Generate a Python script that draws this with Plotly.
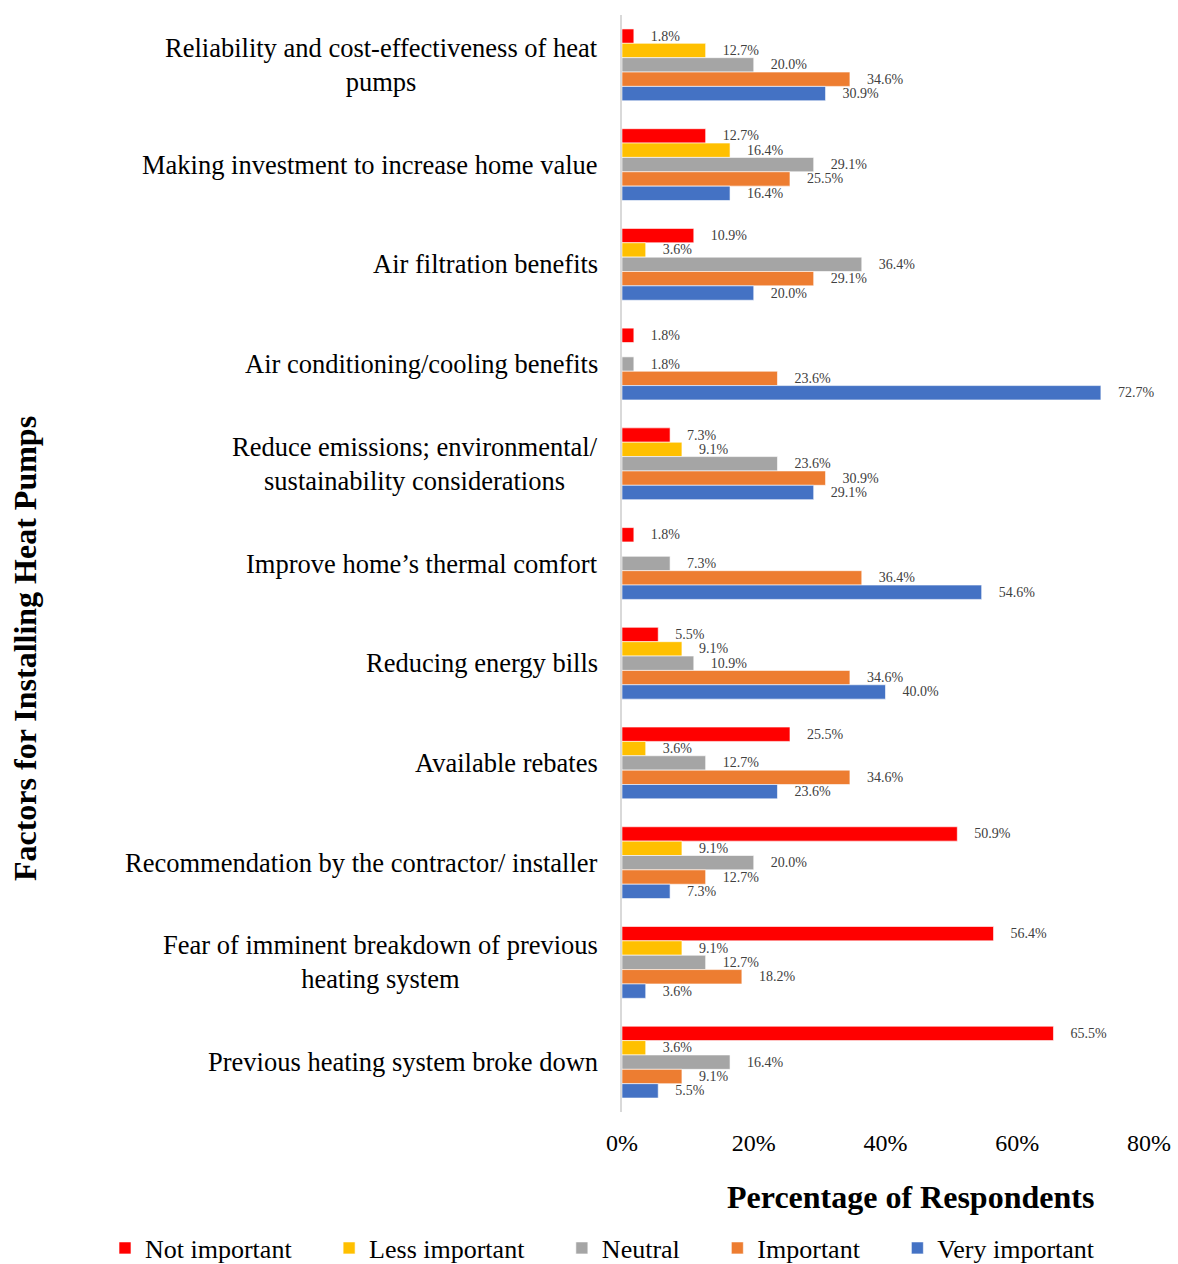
import plotly.graph_objects as go

categories = [
    "Reliability and cost-effectiveness of heat<br>pumps",
    "Making investment to increase home value",
    "Air filtration benefits",
    "Air conditioning/cooling benefits",
    "Reduce emissions; environmental/<br>sustainability considerations",
    "Improve home’s thermal comfort",
    "Reducing energy bills",
    "Available rebates",
    "Recommendation by the contractor/ installer",
    "Fear of imminent breakdown of previous<br>heating system",
    "Previous heating system broke down",
]

not_important = [1.8, 12.7, 10.9, 1.8, 7.3, 1.8, 5.5, 25.5, 50.9, 56.4, 65.5]
less_important = [12.7, 16.4, 3.6, 0, 9.1, 0, 9.1, 3.6, 9.1, 9.1, 3.6]
neutral = [20.0, 29.1, 36.4, 1.8, 23.6, 7.3, 10.9, 12.7, 20.0, 12.7, 16.4]
important = [34.6, 25.5, 29.1, 23.6, 30.9, 36.4, 34.6, 34.6, 12.7, 18.2, 9.1]
very_important = [30.9, 16.4, 20.0, 72.7, 29.1, 54.6, 40.0, 23.6, 7.3, 3.6, 5.5]

series_names = ["Not important", "Less important", "Neutral", "Important", "Very important"]
series_values = [not_important, less_important, neutral, important, very_important]
series_colors = ["#FF0000", "#FFC000", "#A5A5A5", "#ED7D31", "#4472C4"]

x_tickvals = [0, 20, 40, 60, 80]
x_ticktext = ["0%", "20%", "40%", "60%", "80%"]

FONT = "Liberation Serif, Times New Roman, serif"
PAD = "\u00a0" * 4
LEG_PAD = "\u00a0" * 5

fig = go.Figure()
for k, (name, vals, col) in enumerate(zip(series_names, series_values, series_colors)):
    legend_label = name + (LEG_PAD if k < len(series_names) - 1 else "")
    fig.add_trace(go.Bar(
        y=categories, x=vals, orientation="h", name=legend_label,
        marker=dict(color=col, line=dict(color="white", width=0.6)),
        text=[f"{PAD}{v:.1f}%" if v > 0 else "" for v in vals],
        textposition="outside", cliponaxis=False, constraintext="none",
        textfont=dict(family=FONT, size=14, color="#404040"),
        hoverinfo="skip",
    ))

annotations = []
for c in categories:
    annotations.append(dict(
        xref="paper", yref="y", x=0, y=c, xshift=-22,
        xanchor="right", yanchor="middle", align="center",
        text=c, showarrow=False,
        font=dict(family=FONT, size=26.5, color="black"),
    ))

annotations.append(dict(
    xref="paper", yref="paper", x=0.548, y=-0.0775, xanchor="center", yanchor="middle",
    text="<b>Percentage of Respondents</b>", showarrow=False,
    font=dict(family=FONT, size=32, color="black"),
))
annotations.append(dict(
    xref="paper", yref="paper", x=0, xshift=-597, y=0.422, xanchor="center", yanchor="middle",
    text="<b>Factors for Installing Heat Pumps</b>", textangle=-90, showarrow=False,
    font=dict(family=FONT, size=32, color="black"),
))

fig.update_layout(
    width=1178, height=1264,
    margin=dict(l=622, r=29, t=15, b=152, autoexpand=False),
    paper_bgcolor="white", plot_bgcolor="white",
    barmode="group", bargap=0.28, bargroupgap=0,
    font=dict(family=FONT, color="black"),
    showlegend=True,
    legend=dict(
        orientation="h", x=-0.981, xanchor="left", y=-0.1240, yanchor="middle",
        font=dict(family=FONT, size=26, color="black"),
        traceorder="normal", itemwidth=30,
    ),
    annotations=annotations,
)
fig.update_xaxes(
    range=[0, 80], tickvals=x_tickvals, ticktext=x_ticktext,
    showgrid=False, zeroline=False, showline=False, automargin=False,
    tickfont=dict(family=FONT, size=24, color="black"), ticklabelstandoff=14,
)
fig.update_yaxes(
    autorange="reversed", showticklabels=False, showgrid=False, zeroline=False,
    showline=True, linecolor="#D9D9D9", linewidth=2, ticks="", automargin=False,
)

fig.write_html(
    "out.html",
    config={"displayModeBar": False},
    post_script="document.body.style.margin='0';document.body.style.overflow='hidden';",
)
